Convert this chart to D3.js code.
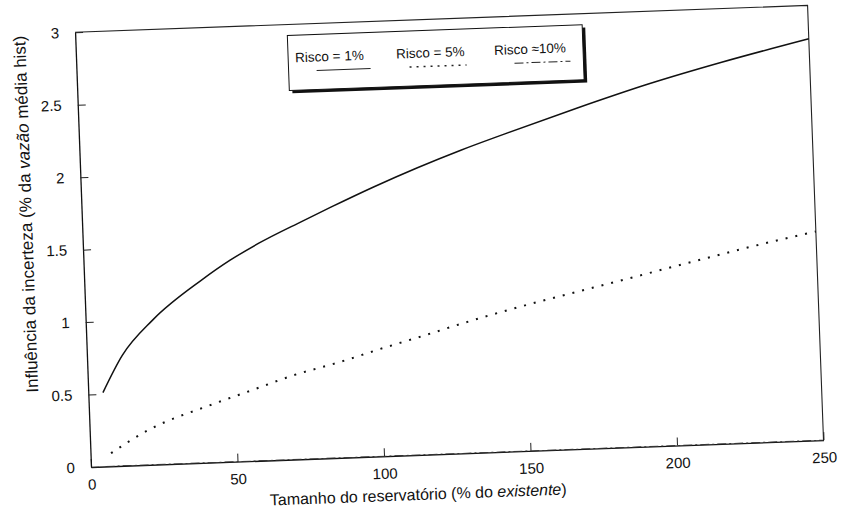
<!DOCTYPE html>
<html>
<head>
<meta charset="utf-8">
<script src="https://cdn.jsdelivr.net/npm/d3@7"></script>
<style>
  body { margin: 0; background: #fff; }
  svg { display: block; font-family: "Liberation Sans", Arial, sans-serif; }
</style>
</head>
<body>
<svg id="chart" width="841" height="520"></svg>
<script>
// ---- data ----
const xTicks = [0, 50, 100, 150, 200, 250];
const yTicks = [0, 0.5, 1, 1.5, 2, 2.5, 3];
const yTickLabels = ["0", "0.5", "1", "1.5", "2", "2.5", "3"];

const risco1X = [5, 12, 23, 40, 50, 60, 75, 85, 100, 115, 130, 145, 170, 195, 220, 250];
const risco1Y = [0.51, 0.76, 1.00, 1.26, 1.39, 1.50, 1.64, 1.73, 1.86, 1.98, 2.09, 2.19, 2.35, 2.50, 2.63, 2.77];

const risco5X = [7, 20, 42, 56, 70, 86, 100, 113, 131, 187, 207, 225, 250];
const risco5Y = [0.09, 0.24, 0.40, 0.49, 0.58, 0.66, 0.74, 0.81, 0.91, 1.17, 1.26, 1.34, 1.44];

const risco10X = [5, 250];
const risco10Y = [0, 0];

const legendLabels = ["Risco = 1%", "Risco = 5%", "Risco ≈10%"];

// ---- layout ----
const W = 733, H = 435;
const svg = d3.select("#chart");
const g = svg.append("g")
  .attr("transform", "translate(91,467) rotate(-2.1) translate(0,-435)");

const x = d3.scaleLinear().domain([0, 250]).range([0, W]);
const y = d3.scaleLinear().domain([0, 3]).range([H, 0]);

// frame (top and right edges)
g.append("path").attr("d", `M0,0H${W}V${H}`)
  .attr("fill", "none").attr("stroke", "#222").attr("stroke-width", 1.1);

// axes
const xAxis = d3.axisBottom(x).tickValues(xTicks).tickSizeInner(-8).tickSizeOuter(0).tickPadding(12);
const gx = g.append("g").attr("transform", `translate(0,${H})`).call(xAxis);
const yAxis = d3.axisLeft(y).tickValues(yTicks).tickSizeInner(-8).tickSizeOuter(0).tickPadding(16)
  .tickFormat((d, i) => yTickLabels[i]);
const gy = g.append("g").call(yAxis);
[gx, gy].forEach(a => {
  a.select(".domain").attr("stroke", "#111").attr("stroke-width", 1.3);
  a.selectAll(".tick line").attr("stroke", "#222");
  a.selectAll("text").attr("font-size", 15).attr("fill", "#111")
    .attr("font-family", "'Liberation Sans', Arial, sans-serif");
});

// lines
const line = d3.line().x(d => x(d[0])).y(d => y(d[1])).curve(d3.curveMonotoneX);
const s1 = risco1X.map((v, i) => [v, risco1Y[i]]);
const s5 = risco5X.map((v, i) => [v, risco5Y[i]]);
const s10 = risco10X.map((v, i) => [v, risco10Y[i]]);

g.append("path").datum(s10).attr("d", line).attr("fill", "none")
  .attr("stroke", "#333").attr("stroke-width", 1).attr("stroke-dasharray", "9,3,2,3");
g.append("path").datum(s1).attr("d", line).attr("fill", "none")
  .attr("stroke", "#111").attr("stroke-width", 1.5);
g.append("path").datum(s5).attr("d", line).attr("fill", "none")
  .attr("stroke", "#111").attr("stroke-width", 2).attr("stroke-dasharray", "2,8");

// legend
const lg = g.append("g").attr("transform", "translate(212,11)");
const LW = 295, LH = 55;
lg.append("rect").attr("x", 3).attr("y", 3).attr("width", LW).attr("height", LH).attr("fill", "#111");
lg.append("rect").attr("x", 0).attr("y", 0).attr("width", LW).attr("height", LH)
  .attr("fill", "#fff").attr("stroke", "#111").attr("stroke-width", 1);
const itemX = [7, 108, 206];
const sampleX = [[28, 82], [121, 178], [226, 282]];
const dashes = [null, "2,5", "9,3,2,3"];
legendLabels.forEach((t, i) => {
  lg.append("text").attr("x", itemX[i]).attr("y", 27).attr("font-size", 13.5)
    .attr("fill", "#111").text(t);
  const sl = lg.append("line").attr("x1", sampleX[i][0]).attr("x2", sampleX[i][1])
    .attr("y1", 36).attr("y2", 36).attr("stroke", "#222").attr("stroke-width", i === 1 ? 1.5 : 1);
  if (dashes[i]) sl.attr("stroke-dasharray", dashes[i]);
});

// axis titles
const xt = g.append("text").attr("x", 326).attr("y", H + 45).attr("text-anchor", "middle")
  .attr("font-size", 16).attr("fill", "#111");
xt.append("tspan").text("Tamanho do reservatório (% do ");
xt.append("tspan").attr("font-style", "italic").text("existente");
xt.append("tspan").text(")");

const yt = g.append("text").attr("transform", `translate(-50,${H - 255}) rotate(-90)`)
  .attr("text-anchor", "middle").attr("font-size", 17).attr("fill", "#111");
yt.append("tspan").text("Influência da incerteza (% da ");
yt.append("tspan").attr("font-style", "italic").text("vazão");
yt.append("tspan").text(" média hist)");
</script>
</body>
</html>
